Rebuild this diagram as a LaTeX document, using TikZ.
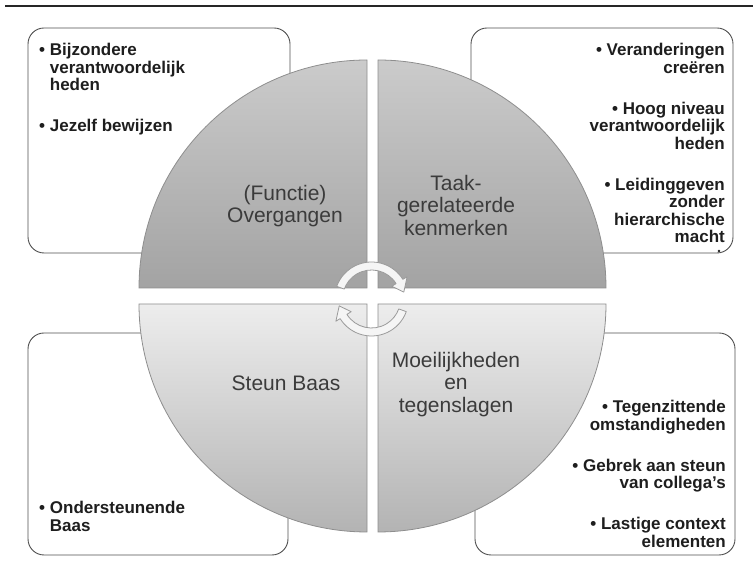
\documentclass[tikz,border=0pt]{standalone}
\usepackage{fontspec}
\setmainfont{Liberation Sans}
\usetikzlibrary{calc}
\definecolor{boxline}{HTML}{505050}
\definecolor{qtA}{HTML}{CBCBCB}
\definecolor{qtB}{HTML}{A3A3A3}
\definecolor{qbA}{HTML}{EDEDED}
\definecolor{qbB}{HTML}{B3B3B3}
\definecolor{qline}{HTML}{8E8E8E}
\definecolor{qtext}{HTML}{3B3B3B}
\definecolor{btext}{HTML}{1E1E1E}
\definecolor{arrowfill}{HTML}{F5F5F5}
\definecolor{arrowline}{HTML}{9A9A9A}
\begin{document}
\begin{tikzpicture}[x=1pt,y=1pt,
  infobox/.style={draw=boxline, line width=0.9pt, fill=white, rounded corners=16pt},
  quadtop/.style={top color=qtA, bottom color=qtB, draw=qline, line width=0.8pt},
  quadbot/.style={top color=qbA, bottom color=qbB, draw=qline, line width=0.8pt},
  quadtext/.style={font=\fontsize{21}{22.5}\selectfont, text=qtext, align=center, inner sep=0pt},
  bullettext/.style={font=\bfseries\fontsize{17}{17.5}\selectfont, text=btext, inner sep=0pt},
  cyclearrow/.style={fill=arrowfill, draw=arrowline, line width=0.8pt, line join=round}
]
\useasboundingbox (0,0) rectangle (753,577);
\fill[white] (0,0) rectangle (753,577);
\draw[line width=2.5pt, black!85] (5,571) -- (753,571);

% outer boxes
\draw[infobox] (28,324) rectangle (290,549);
\draw[infobox] (471,324) rectangle (733,549);
\draw[infobox] (28,22) rectangle (288,244);
\draw[infobox] (475,22) rectangle (735,244);

% quadrants
\path[quadtop] (367,289) -- (139,289) arc[start angle=180, end angle=90, radius=228] -- cycle;
\path[quadtop] (378,289) -- (378,517) arc[start angle=90, end angle=0, radius=228] -- cycle;
\path[quadbot] (367,273) -- (367,45) arc[start angle=270, end angle=180, radius=228] -- cycle;
\path[quadbot] (378,273) -- (606,273) arc[start angle=0, end angle=-90, radius=228] -- cycle;

% cycle arrows
\coordinate (C) at (371.5,278);
\path[cyclearrow] ($(C)+(160:37)$) arc[start angle=160, end angle=32, radius=37]
  -- ($(C)+(32:42)$) -- ($(C)+(12:33)$) -- ($(C)+(32:24)$) -- ($(C)+(32:29)$)
  arc[start angle=32, end angle=160, radius=29] -- cycle;
\path[cyclearrow] ($(C)+(-20:37)$) arc[start angle=-20, end angle=-148, radius=37]
  -- ($(C)+(-148:42)$) -- ($(C)+(-168:33)$) -- ($(C)+(-148:24)$) -- ($(C)+(-148:29)$)
  arc[start angle=-148, end angle=-20, radius=29] -- cycle;

% quadrant labels
\node[quadtext] (q1) at (285,371) {(Functie)\\Overgangen};
\node[quadtext] (q2) at (456,371.5) {Taak-\\gerelateerde\\kenmerken};
\node[quadtext] (q3) at (286,194) {Steun Baas};
\node[quadtext] (q4) at (456,192.5) {Moeilijkheden\\en\\tegenslagen};

% bullet texts
\node[bullettext, align=left, anchor=north west] (b1) at (39,533.9)
  {\makebox[10.7pt][l]{•}Bijzondere\\\hspace*{10.7pt}verantwoordelijk\\\hspace*{10.7pt}heden\\[23.5pt]\makebox[10.7pt][l]{•}Jezelf bewijzen};
\node[bullettext, align=right, anchor=north east] (b2) at (725,533.9)
  {• Veranderingen\\creëren\\[23.5pt]• Hoog niveau\\verantwoordelijk\\heden\\[23.5pt]• Leidinggeven\\zonder\\hierarchische\\macht};
\node[bullettext, align=left, anchor=north west] (b3) at (39,75.9)
  {\makebox[10.7pt][l]{•}Ondersteunende\\\hspace*{10.7pt}Baas};
\node[bullettext, align=right, anchor=north east] (b4) at (726,176.9)
  {• Tegenzittende\\omstandigheden\\[23.5pt]• Gebrek aan steun\\van collega's\\[23.5pt]• Lastige context\\elementen};
\fill[btext] (719,326) circle (1.4);
\end{tikzpicture}
\end{document}
